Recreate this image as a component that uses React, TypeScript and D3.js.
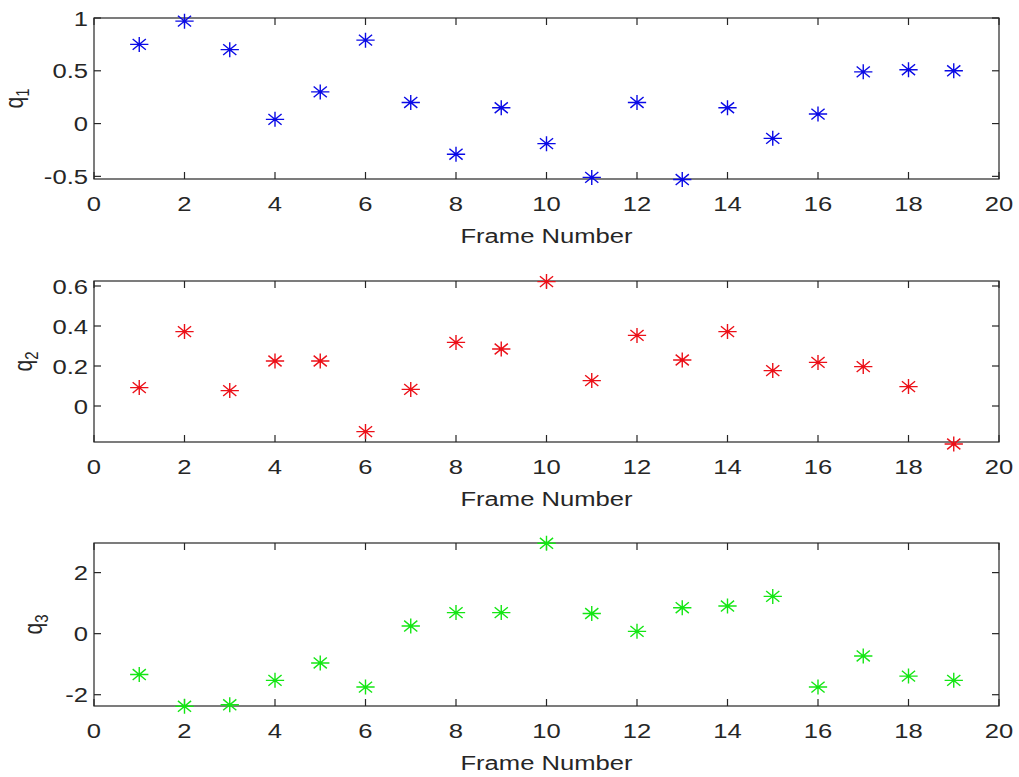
import React from 'react';
import * as d3 from 'd3';

// frame numbers and the three series
const frames = [1, 2, 3, 4, 5, 6, 7, 8, 9, 10, 11, 12, 13, 14, 15, 16, 17, 18, 19];
const q1 = [0.75, 0.97, 0.70, 0.04, 0.30, 0.79, 0.20, -0.29, 0.15, -0.19, -0.51, 0.20, -0.53, 0.15, -0.14, 0.09, 0.49, 0.51, 0.50];
const q2 = [0.092, 0.372, 0.077, 0.225, 0.225, -0.128, 0.083, 0.318, 0.285, 0.622, 0.127, 0.353, 0.23, 0.372, 0.177, 0.218, 0.197, 0.097, -0.19];
const q3 = [-1.34, -2.38, -2.33, -1.53, -0.96, -1.75, 0.25, 0.69, 0.69, 2.96, 0.66, 0.075, 0.85, 0.905, 1.22, -1.75, -0.73, -1.39, -1.53];

const xTicks = [0, 2, 4, 6, 8, 10, 12, 14, 16, 18, 20];
const q1Ticks = [-0.5, 0, 0.5, 1];
const q2Ticks = [0, 0.2, 0.4, 0.6];
const q3Ticks = [-2, 0, 2];

const W = 1019;
const H = 777;
const LEFT = 94;
const RIGHT = 999;
const STRETCH = 1.22; // the picture is wider than tall in its glyphs
const FONT = '"Liberation Sans", Arial, Helvetica, sans-serif';
const INK = '#262626';

const panels = [
  { sub: '1', values: q1, ticks: q1Ticks, domain: [-0.525, 1], top: 18, bottom: 179, color: '#0a0ae6', labelX: 23 },
  { sub: '2', values: q2, ticks: q2Ticks, domain: [-0.18, 0.625], top: 281, bottom: 442, color: '#ec1018', labelX: 32 },
  { sub: '3', values: q3, ticks: q3Ticks, domain: [-2.37, 2.97], top: 543, bottom: 706, color: '#14e614', labelX: 42 },
];

const x = d3.scaleLinear().domain([0, 20]).range([LEFT, RIGHT]);

// MATLAB style asterisk: + and x together
const star = (r: number) => {
  const h = r * STRETCH;
  const dx = r * 0.72 * STRETCH;
  const dy = r * 0.72;
  return `M${-h},0L${h},0M0,${-r}L0,${r}M${-dx},${-dy}L${dx},${dy}M${-dx},${dy}L${dx},${-dy}`;
};

const Label = ({ x, y, anchor, children, size = 21 }: any) => (
  <text
    transform={`translate(${x},${y}) scale(${STRETCH},1)`}
    textAnchor={anchor}
    fontSize={size}
    fontFamily={FONT}
    fill={INK}
  >
    {children}
  </text>
);

const Panel = ({ p }: any) => {
  const y = d3.scaleLinear().domain(p.domain).range([p.bottom, p.top]);
  const fmt = (v: number) => (v === 0 ? '0' : String(v));
  const tick = 7;
  const midY = (p.top + p.bottom) / 2;
  return (
    <g>
      <rect x={LEFT} y={p.top} width={RIGHT - LEFT} height={p.bottom - p.top} fill="white" stroke={INK} strokeWidth={1.2} />
      {xTicks.map(t => (
        <g key={'x' + t}>
          <line x1={x(t)} x2={x(t)} y1={p.bottom} y2={p.bottom - tick} stroke={INK} strokeWidth={1.2} />
          <line x1={x(t)} x2={x(t)} y1={p.top} y2={p.top + tick} stroke={INK} strokeWidth={1.2} />
          <Label x={x(t)} y={p.bottom + 32} anchor="middle">{t}</Label>
        </g>
      ))}
      {p.ticks.map((t: number) => (
        <g key={'y' + t}>
          <line x1={LEFT} x2={LEFT + tick} y1={y(t)} y2={y(t)} stroke={INK} strokeWidth={1.2} />
          <line x1={RIGHT} x2={RIGHT - tick} y1={y(t)} y2={y(t)} stroke={INK} strokeWidth={1.2} />
          <Label x={LEFT - 6} y={y(t) + 7.5} anchor="end">{fmt(t)}</Label>
        </g>
      ))}
      <Label x={(LEFT + RIGHT) / 2} y={p.bottom + 64} anchor="middle">Frame Number</Label>
      <text
        transform={`translate(${p.labelX},${midY}) scale(${STRETCH},1) rotate(-90)`}
        textAnchor="middle"
        fontSize={21}
        fontFamily={FONT}
        fill={INK}
      >
        q<tspan fontSize={15} dy={5}>{p.sub}</tspan>
      </text>
      {frames.map((f, i) => (
        <path
          key={f}
          d={star(7.5)}
          transform={`translate(${x(f)},${y(p.values[i])})`}
          stroke={p.color}
          strokeWidth={1.4}
          fill="none"
        />
      ))}
    </g>
  );
};

const App = () => (
  <svg width={W} height={H} style={{ position: 'absolute', left: 0, top: 0, background: 'white' }}>
    <rect width={W} height={H} fill="white" />
    {panels.map(p => <Panel key={p.sub} p={p} />)}
  </svg>
);

export default App;
